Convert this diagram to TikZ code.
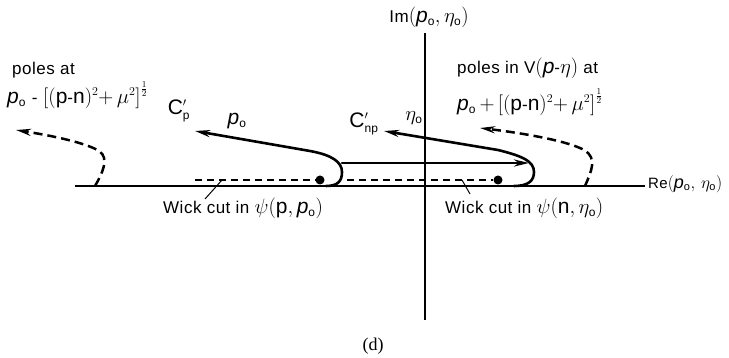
\documentclass[tikz,border=0pt]{standalone}
\usepackage{fontspec}
\setmainfont{Liberation Sans}[LetterSpace=3]
\newfontfamily\capfont{Liberation Serif}
\usetikzlibrary{arrows.meta}
\DeclareMathSizes{17}{21}{12}{9}
\DeclareMathSizes{15}{18}{11}{8}
\newcommand\pzero{\mathit{p}_{\mathrm{o}}}
\newcommand\etazero{\eta_{\mathrm{o}}}
\newcommand\dsh{\mbox{-}}
\tikzset{
  lbl/.style={inner sep=0pt, font=\fontsize{17}{20}\selectfont},
  smalllbl/.style={inner sep=0pt, font=\fontsize{15}{18}\selectfont},
  axisline/.style={line width=1.8pt},
  contour/.style={line width=2.6pt, line cap=round},
  arr/.style={-{Stealth[length=15pt,width=7pt]}},
  poleline/.style={line width=2.5pt, dash pattern=on 9pt off 5pt},
  cutline/.style={line width=1.3pt, dash pattern=on 7pt off 5pt},
  pointer/.style={line width=1pt},
  pole/.style={circle, fill, inner sep=0pt, minimum size=9pt},
}
\begin{document}
\begin{tikzpicture}[x=1pt,y=-1pt]
\useasboundingbox (0,0) rectangle (729,358);
% axes
\coordinate (reL) at (75,186);
\coordinate (reR) at (645,186);
\coordinate (imT) at (425,33);
\coordinate (imB) at (425,320);
\draw[line width=2.4pt] (reL) -- (reR);
\draw[axisline] (imT) -- (imB);
% poles (dots)
\node[pole] (dotL) at (320,180) {};
\node[pole] (dotR) at (498,180) {};
% cut lines
\coordinate (cutLs) at (195,180);
\coordinate (cutRs) at (347,180);
\draw[cutline] (cutLs) -- (dotL);
\draw[cutline] (cutRs) -- (dotR);
% contour C'_p
\coordinate (cpBot) at (326,186);
\coordinate (cpTip) at (195,131);
\draw[contour, arr] (cpBot) .. controls (338,186) and (342,181) .. (342,172)
  .. controls (342,162) and (332,155) .. (310,151) -- (cpTip);
% horizontal leg
\coordinate (hS) at (342,163);
\coordinate (hE) at (529,163);
\draw[contour, arr] (hS) -- (hE);
% contour C'_np
\coordinate (cnBot) at (514,186);
\coordinate (cnTip) at (384,131);
\draw[contour, arr] (cnBot) .. controls (528,186) and (534,181) .. (534,172)
  .. controls (534,161) and (522,156) .. (498,150) -- (cnTip);
% pole trajectories
\coordinate (plB) at (95,186);
\coordinate (plTip) at (16,130);
\draw[poleline, arr] (plB) .. controls (102,174) and (110,158) .. (99,151)
  .. controls (88,144) and (60,137) .. (plTip);
\coordinate (prB) at (585,186);
\coordinate (prTip) at (480,128);
\draw[poleline, arr] (prB) .. controls (591,172) and (598,158) .. (584,150)
  .. controls (570,142) and (530,134) .. (prTip);
% labels
\node[lbl, anchor=west] (polesL) at (12,70) {poles at};
\node[lbl, anchor=west] (formL) at (7,95) {$\pzero\;\dsh\;\Big[(\mathrm{p}\dsh\mathrm{n})^{2}{+}\,\mu^{2}\Big]^{\frac{1}{2}}$};
\node[lbl, anchor=west] (polesR) at (457,68) {poles in V$(\mathit{p}\dsh\eta)$ at};
\node[lbl, anchor=west] (formR) at (457,102) {$\pzero\,{+}\,\Big[(\mathrm{p}\dsh\mathrm{n})^{2}{+}\,\mu^{2}\Big]^{\frac{1}{2}}$};
\node[lbl] (imlab) at (429,17) {Im$(\pzero,\etazero)$};
\node[smalllbl, anchor=west] (relab) at (648,184) {Re$(\pzero,\,\etazero)$};
\node[lbl] (cplab) at (179,111) {$\mathrm{C}'_{\mathrm{p}}$};
\node[lbl] (p0lab) at (237,121) {$\pzero$};
\node[lbl] (cnplab) at (364,124) {$\mathrm{C}'_{\mathrm{np}}$};
\node[lbl] (etalab) at (414,118) {$\etazero$};
\node[lbl, anchor=west] (wickL) at (163,208) {Wick cut in $\psi(\mathrm{p},\pzero)$};
\node[lbl, anchor=west] (wickR) at (445,208) {Wick cut in $\psi(\mathrm{n},\etazero)$};
\node[font=\capfont\fontsize{18}{20}\selectfont, inner sep=0pt] (cap) at (373,346) {(d)};
% pointers
\coordinate (ptrL) at (222,180);
\coordinate (ptrR) at (462,180);
\draw[pointer] (205,199) -- (ptrL);
\draw[pointer] (470,194) -- (ptrR);
\end{tikzpicture}
\end{document}
